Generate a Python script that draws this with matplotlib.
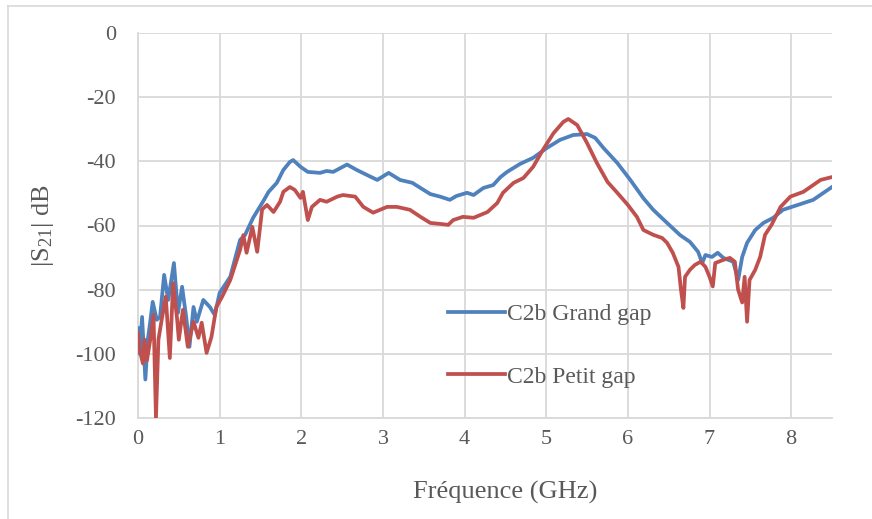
import matplotlib
matplotlib.use("Agg")
import matplotlib.pyplot as plt
from matplotlib.lines import Line2D

plt.rcParams["font.family"] = ["Liberation Serif", "DejaVu Serif"]
plt.rcParams["mathtext.default"] = "regular"
plt.rcParams["axes.unicode_minus"] = False

# measured |S21| for the two gap sizes (GHz, dB)
freq_grand = [0.00, 0.02, 0.05, 0.09, 0.12, 0.15, 0.18, 0.23, 0.27, 0.32, 0.37, 0.44,
              0.49, 0.54, 0.59, 0.63, 0.68, 0.72, 0.80, 0.88, 0.94, 1.00, 1.13, 1.25,
              1.31, 1.41, 1.53, 1.60, 1.70, 1.78, 1.86, 1.90, 1.99, 2.08, 2.23, 2.31,
              2.39, 2.56, 2.68, 2.80, 2.93, 3.07, 3.21, 3.36, 3.46, 3.58, 3.70, 3.82,
              3.90, 4.03, 4.11, 4.23, 4.35, 4.44, 4.52, 4.68, 4.84, 5.01, 5.17, 5.33,
              5.50, 5.60, 5.70, 5.87, 6.03, 6.19, 6.31, 6.48, 6.64, 6.76, 6.86, 6.91,
              6.95, 7.03, 7.10, 7.17, 7.29, 7.35, 7.40, 7.46, 7.56, 7.66, 7.78, 7.90,
              8.08, 8.27, 8.50]
s21_grand = [-92, -100, -88.5, -108, -95.6, -90, -83.8, -89.4, -88.5, -75.4, -83.2, -71.7,
             -87.2, -79.1, -88.5, -97.8, -85.4, -90, -83.2, -85.4, -87.9, -81, -76, -64.5,
             -63, -57.6, -52.6, -49.5, -46.7, -42.7, -40.2, -39.6, -41.7, -43.3, -43.6, -43,
             -43.3, -41, -42.7, -44.2, -45.8, -43.6, -45.8, -46.7, -48.3, -50.2, -51, -52,
             -50.8, -49.8, -50.5, -48.3, -47.4, -44.9, -43.3, -40.8, -38.9, -35.8, -33.3, -31.8,
             -31.5, -32.7, -35.8, -40.5, -45.8, -51.5, -55.1, -59.2, -63, -65.1, -68.2, -71.7,
             -69.2, -69.8, -68.5, -70.1, -71.3, -77, -69.8, -65.4, -61.4, -59.2, -57.6, -55.1,
             -53.6, -52, -48]

freq_petit = [0.00, 0.02, 0.06, 0.08, 0.11, 0.15, 0.19, 0.22, 0.25, 0.29, 0.34, 0.39,
              0.43, 0.48, 0.50, 0.55, 0.61, 0.68, 0.74, 0.78, 0.84, 0.90, 0.96, 1.03,
              1.13, 1.25, 1.29, 1.33, 1.40, 1.46, 1.52, 1.58, 1.66, 1.74, 1.78, 1.86,
              1.92, 1.99, 2.02, 2.08, 2.13, 2.23, 2.31, 2.44, 2.51, 2.66, 2.76, 2.88,
              3.05, 3.17, 3.33, 3.46, 3.58, 3.70, 3.80, 3.86, 3.98, 4.11, 4.28, 4.40,
              4.47, 4.60, 4.72, 4.84, 4.96, 5.09, 5.21, 5.27, 5.38, 5.50, 5.62, 5.75,
              5.87, 6.00, 6.11, 6.19, 6.31, 6.42, 6.48, 6.55, 6.62, 6.65, 6.68, 6.70,
              6.76, 6.82, 6.89, 6.95, 7.00, 7.04, 7.07, 7.17, 7.25, 7.31, 7.35, 7.40,
              7.43, 7.46, 7.49, 7.56, 7.62, 7.68, 7.76, 7.87, 7.99, 8.15, 8.36, 8.50]
s21_petit = [-93.5, -98.8, -103, -95.6, -102, -95.6, -87.9, -120, -95.6, -89.4, -82.2, -101.3,
             -78, -89.4, -95.6, -86.3, -97.8, -90, -95, -90.3, -99.7, -94.7, -85.4, -82.2,
             -77, -67.6, -63, -68.5, -60.4, -68.2, -55, -53.6, -55.8, -52.6, -49.5, -48,
             -48.9, -51.4, -49.5, -58.3, -54.2, -52, -52.6, -51, -50.5, -51, -54.2, -56,
             -54.2, -54.2, -55.1, -57.3, -59.2, -59.5, -59.8, -58.3, -57.3, -57.6, -55.8, -53,
             -49.8, -46.7, -45.2, -41.7, -36.4, -31.2, -27.7, -26.8, -28.7, -34.3, -40.5, -46.4,
             -49.8, -53.6, -57.3, -61.4, -62.9, -63.9, -65.4, -68.5, -72.9, -80, -85.7, -76,
             -73.8, -72.3, -71.3, -72.9, -76, -79, -71.7, -70.7, -70.1, -71.3, -80, -84,
             -76, -90, -77, -73.8, -69.8, -62.9, -59.8, -54.2, -51, -49.5, -45.8, -44.9]

labels = ["C2b Grand gap", "C2b Petit gap"]
x_ticks = list(range(0, 9))
y_ticks = list(range(-120, 1, 20))

text_col = "#595959"
grid_col = "#D9D9D9"

fig = plt.figure(figsize=(8.72, 5.19), dpi=100)
ax = fig.add_axes([138 / 872, 1 - 418 / 519, (832 - 138) / 872, (418 - 33) / 519])

ax.plot(freq_grand, s21_grand, color="#4F81BD", lw=2.7, label=labels[0], zorder=3,
        solid_joinstyle="round")
ax.plot(freq_petit, s21_petit, color="#C0504D", lw=2.7, label=labels[1], zorder=3,
        solid_joinstyle="round")

ax.set_xlim(0, 8.5)
ax.set_ylim(-120, 0)
ax.set_xticks(x_ticks)
ax.set_yticks(y_ticks)
ax.grid(True, color=grid_col, lw=1.3)
ax.set_axisbelow(True)
for side in ["top", "right"]:
    ax.spines[side].set_visible(False)
for side in ["left", "bottom"]:
    ax.spines[side].set_color(grid_col)
    ax.spines[side].set_linewidth(1.3)

ax.tick_params(length=0, labelsize=16, labelcolor=text_col)
ax.tick_params(axis="y", pad=16)
ax.tick_params(axis="x", pad=9)

ax.set_xlabel("Fréquence (GHz)", fontsize=19, color=text_col)
ax.xaxis.set_label_coords((505 - 138) / 694, -(492 - 418) / 385, transform=ax.transAxes)
ax.xaxis.label.set_va("center")
ax.set_ylabel("|S$_{21}$| dB", fontsize=19, color=text_col, labelpad=14)

ax.legend(loc="center left", bbox_to_anchor=(448 / 872, 1 - 345.5 / 519),
          bbox_transform=fig.transFigure, frameon=False, fontsize=17,
          labelcolor=text_col, handlelength=2.4, handletextpad=0.1,
          labelspacing=1.75, borderpad=0, borderaxespad=0)

# thin chart-area frame (only top and left edges fall inside the image)
fig.add_artist(Line2D([8 / 872, 1], [1 - 5.5 / 519] * 2, color="#D9D9D9", lw=1.2,
                      transform=fig.transFigure))
fig.add_artist(Line2D([8 / 872] * 2, [0, 1 - 5.5 / 519], color="#D9D9D9", lw=1.2,
                      transform=fig.transFigure))

fig.savefig("out.png", dpi=100, facecolor="white")
